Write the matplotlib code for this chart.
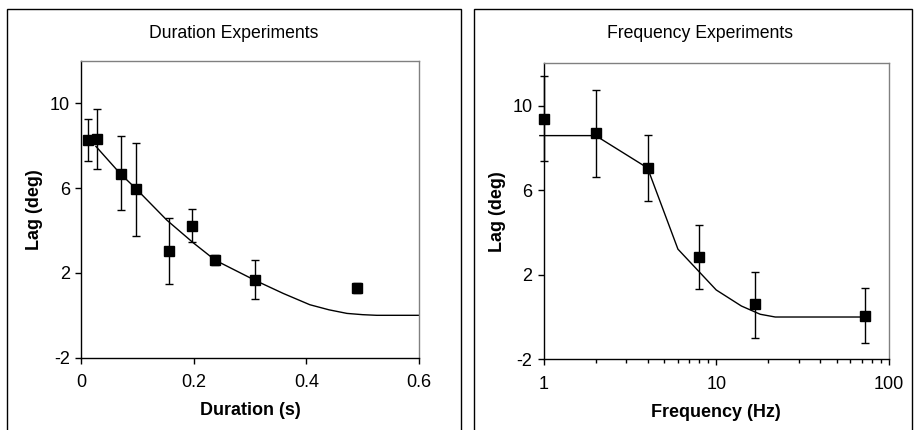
import numpy as np
import matplotlib
matplotlib.use("Agg")
import matplotlib.pyplot as plt
from matplotlib.patches import Rectangle
from matplotlib.ticker import FixedLocator, LogLocator, NullFormatter, FuncFormatter

plt.rcParams['font.family'] = ['Liberation Sans', 'DejaVu Sans']
plt.rcParams['axes.unicode_minus'] = False

# duration experiments
dur_x = [0.012, 0.028, 0.071, 0.097, 0.155, 0.197, 0.238, 0.308, 0.489]
dur_y = [8.26, 8.32, 6.69, 5.96, 3.04, 4.22, 2.63, 1.66, 1.31]
dur_hi = [9.28, 9.75, 8.48, 8.13, 4.60, 5.01, 2.84, 2.62, 1.52]
dur_lo = [7.30, 6.92, 4.96, 3.75, 1.46, 3.44, 2.37, 0.75, 1.03]
dur_fit_x = [0.026, 0.069, 0.097, 0.152, 0.199, 0.238, 0.308, 0.359, 0.406, 0.44, 0.472, 0.50, 0.525, 0.6]
dur_fit_y = [7.97, 6.69, 5.98, 4.49, 3.42, 2.60, 1.66, 1.03, 0.50, 0.26, 0.09, 0.03, 0.0, 0.0]

# frequency experiments
frq_x = [1, 2, 4, 8, 16.8, 72.6]
frq_y = [9.35, 8.69, 7.05, 2.83, 0.60, 0.07]
frq_hi = [11.42, 10.74, 8.61, 4.33, 2.15, 1.39]
frq_lo = [7.36, 6.62, 5.47, 1.32, -0.97, -1.21]
frq_fit_x = [0.95, 2, 4, 6, 10, 14, 18, 22, 72.6]
frq_fit_y = [8.58, 8.58, 7.05, 3.21, 1.28, 0.52, 0.13, 0.0, 0.0]

yticks = [-2, 2, 6, 10]
FS = 13

fig = plt.figure(figsize=(9.14, 4.30), dpi=100)

# panel frames
for x0, x1 in [(7, 461), (474, 912)]:
    fig.add_artist(Rectangle((x0 / 914, -0.05), (x1 - x0) / 914, 1.05 - 9 / 430,
                             transform=fig.transFigure, fill=False,
                             ec='black', lw=1.0))


def style(ax):
    ax.spines['top'].set_color('#808080')
    ax.spines['right'].set_color('#808080')
    for s in ax.spines.values():
        s.set_linewidth(1.0)
    ax.tick_params(direction='out', length=4, width=1, labelsize=FS, color='black')
    ax.tick_params(axis='x', pad=8)
    ax.tick_params(axis='y', pad=4)
    ax.set_ylim(-2, 12)
    ax.set_yticks(yticks)
    ax.set_ylabel('Lag (deg)', fontsize=FS, fontweight='bold', labelpad=5)


def draw(ax, x, y, lo, hi, fx, fy):
    y = np.array(y)
    yerr = [y - np.array(lo), np.array(hi) - y]
    ax.plot(fx, fy, color='black', lw=1.0, clip_on=False)
    ax.errorbar(x, y, yerr=yerr, fmt='s', color='black', ms=7, ecolor='black',
                elinewidth=1.0, capsize=3, capthick=1.0, clip_on=False, zorder=3)


ax1 = fig.add_axes([81.3 / 914, 1 - 357.7 / 430, (419 - 81.3) / 914, (357.7 - 61) / 430])
style(ax1)
draw(ax1, dur_x, dur_y, dur_lo, dur_hi, dur_fit_x, dur_fit_y)
ax1.set_xlim(0, 0.6)
ax1.set_xticks([0, 0.2, 0.4, 0.6])
ax1.set_xticklabels(['0', '0.2', '0.4', '0.6'])
ax1.set_xlabel('Duration (s)', fontsize=FS, fontweight='bold', labelpad=8)
fig.text(234 / 914, 1 - 33 / 430, 'Duration Experiments', ha='center', va='center', fontsize=12.7)

ax2 = fig.add_axes([543.7 / 914, 1 - 359.3 / 430, (888.7 - 543.7) / 914, (359.3 - 63.3) / 430])
style(ax2)
ax2.set_xscale('log')
draw(ax2, frq_x, frq_y, frq_lo, frq_hi, frq_fit_x, frq_fit_y)
ax2.set_xlim(1, 100)
ax2.xaxis.set_major_locator(FixedLocator([1, 10, 100]))
ax2.xaxis.set_major_formatter(FuncFormatter(lambda v, p: '%d' % v))
ax2.xaxis.set_minor_locator(LogLocator(base=10, subs=np.arange(2, 10)))
ax2.xaxis.set_minor_formatter(NullFormatter())
ax2.tick_params(axis='x', which='minor', direction='out', length=3, width=1)
ax2.set_xlabel('Frequency (Hz)', fontsize=FS, fontweight='bold', labelpad=8)
fig.text(700 / 914, 1 - 33 / 430, 'Frequency Experiments', ha='center', va='center', fontsize=12.7)

fig.savefig('out.png', dpi=100)
